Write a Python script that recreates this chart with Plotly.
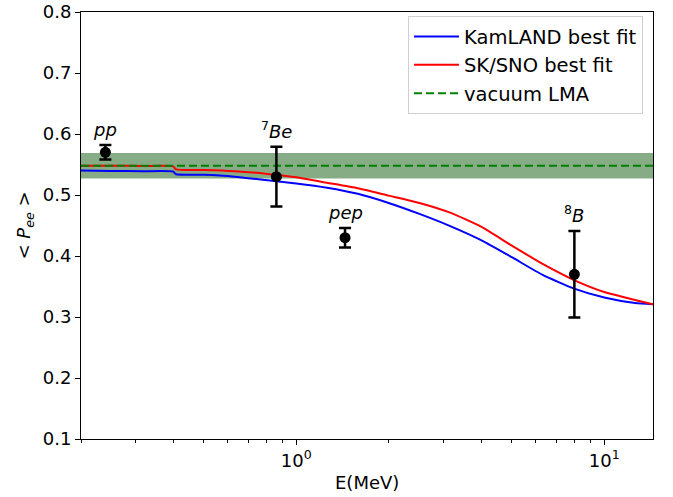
import math
import plotly.graph_objects as go

# Energy grid (MeV) for the survival-probability curves
energy = [0.2, 0.251, 0.316, 0.398, 0.407, 0.501, 0.631, 0.794, 1.0, 1.259,
          1.585, 1.995, 2.512, 3.162, 3.981, 5.012, 6.31, 7.943, 10.0, 12.59, 14.4]
kamland_fit = [0.540, 0.5395, 0.539, 0.5385, 0.534, 0.533, 0.530, 0.5245, 0.519,
               0.512, 0.502, 0.487, 0.469, 0.449, 0.426, 0.398, 0.369, 0.347,
               0.332, 0.323, 0.321]
sksno_fit = [0.548, 0.548, 0.5475, 0.547, 0.542, 0.541, 0.539, 0.535, 0.529,
             0.520, 0.511, 0.499, 0.487, 0.471, 0.448, 0.417, 0.387, 0.361,
             0.341, 0.328, 0.321]

# Vacuum LMA prediction and its uncertainty band
vac_lma = 0.548
vac_lo, vac_hi = 0.527, 0.569

# Measured solar neutrino survival probabilities
sources = ["<i>pp</i>", "<sup>7</sup><i>Be</i>", "<i>pep</i>", "<sup>8</sup><i>B</i>"]
src_energy = [0.24, 0.862, 1.44, 8.0]
src_pee = [0.570, 0.530, 0.430, 0.370]
src_err = [0.012, 0.049, 0.016, 0.071]

x_range = [0.2, 14.4]

FAMILY = "DejaVu Sans, sans-serif"

fig = go.Figure()

fig.add_trace(go.Scatter(x=energy, y=kamland_fit, mode="lines",
                         line=dict(color="#0000ff", width=2, shape="spline",
                                   smoothing=0.5),
                         name="KamLAND best fit"))
fig.add_trace(go.Scatter(x=energy, y=sksno_fit, mode="lines",
                         line=dict(color="#ff0000", width=2, shape="spline",
                                   smoothing=0.5),
                         name="SK/SNO best fit"))
fig.add_trace(go.Scatter(x=x_range, y=[vac_lma, vac_lma], mode="lines",
                         line=dict(color="#008000", width=2, dash="8px,4px"),
                         name="vacuum LMA"))
fig.add_trace(go.Scatter(x=src_energy, y=src_pee, mode="markers",
                         marker=dict(color="black", size=11),
                         error_y=dict(type="data", array=src_err, color="black",
                                      thickness=2.5, width=6),
                         showlegend=False))

# shaded band for the vacuum LMA uncertainty
fig.add_shape(type="rect", xref="paper", x0=0, x1=1, yref="y", y0=vac_lo, y1=vac_hi,
              fillcolor="#86ac86", line=dict(width=0), layer="below")

# source labels above each error bar (annotation x is in log10 units)
for name, e, p, err in zip(sources, src_energy, src_pee, src_err):
    fig.add_annotation(x=math.log10(e), y=p + err, xref="x", yref="y", text=name,
                       showarrow=False, yanchor="bottom", yshift=3,
                       font=dict(size=18, color="black", family=FAMILY))

# axis titles
fig.add_annotation(x=0.5, y=-0.101, xref="paper", yref="paper", text="E(MeV)",
                   showarrow=False, xanchor="center", yanchor="middle",
                   font=dict(size=18, color="black", family=FAMILY))
fig.add_annotation(x=-0.098, y=0.5, xref="paper", yref="paper",
                   text="< <i>P</i><sub><i>ee</i></sub> >", textangle=-90,
                   showarrow=False, xanchor="center", yanchor="middle",
                   font=dict(size=18, color="black", family=FAMILY))

fig.update_layout(
    width=673, height=497,
    margin=dict(l=81, r=20, t=12, b=58, autoexpand=False),
    paper_bgcolor="white", plot_bgcolor="white",
    font=dict(family=FAMILY, size=18, color="black"),
    showlegend=True,
    legend=dict(x=0.9825, y=0.99, xanchor="right", yanchor="top",
                bgcolor="rgba(255,255,255,0.8)", bordercolor="#d0d0d0",
                borderwidth=1, tracegroupgap=0, itemwidth=45,
                font=dict(size=19.5, color="black", family=FAMILY)),
    xaxis=dict(type="log", range=[math.log10(x_range[0]), math.log10(x_range[1])],
               tickvals=[1, 10], ticktext=["10<sup>0</sup>", "10<sup>1</sup>"],
               ticks="outside", ticklen=5, tickwidth=1, tickcolor="black",
               minor=dict(ticks="outside", ticklen=3, tickwidth=1,
                          tickcolor="black", dtick="D1", showgrid=False),
               showline=True, linecolor="black", linewidth=1, mirror=True,
               showgrid=False, zeroline=False, automargin=False,
               tickfont=dict(size=18)),
    yaxis=dict(range=[0.1, 0.8], tickvals=[0.1, 0.2, 0.3, 0.4, 0.5, 0.6, 0.7, 0.8],
               ticktext=["0.1", "0.2", "0.3", "0.4", "0.5", "0.6", "0.7", "0.8"],
               ticks="outside", ticklen=5, tickwidth=1, tickcolor="black",
               showline=True, linecolor="black", linewidth=1, mirror=True,
               showgrid=False, zeroline=False, automargin=False,
               tickfont=dict(size=18)),
)

fig.write_html("out.html")
